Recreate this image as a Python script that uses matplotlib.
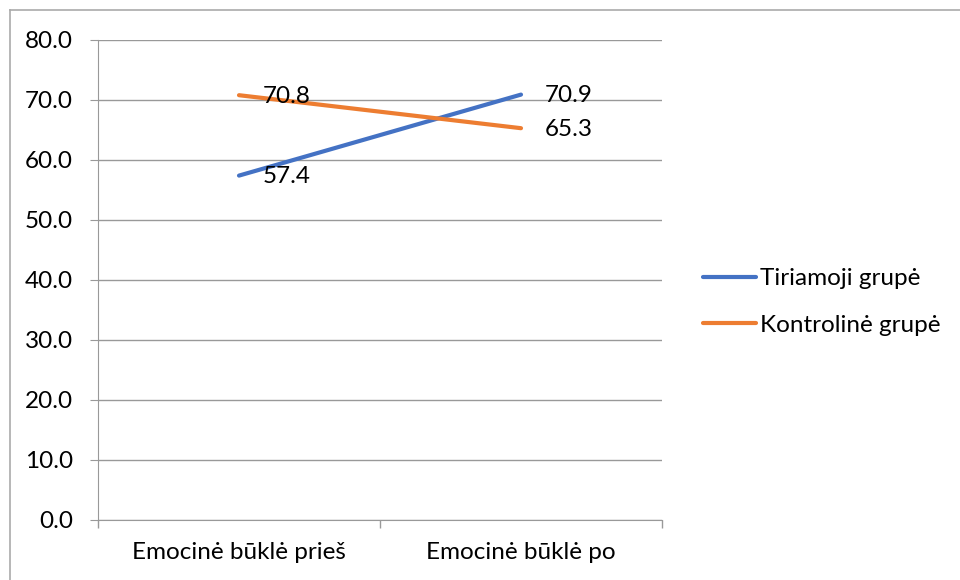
import matplotlib.pyplot as plt
import numpy as np

# data
categories = ["Emocinė būklė prieš", "Emocinė būklė po"]
tiriamoji = [57.4, 70.9]
kontroline = [70.8, 65.3]
series_names = ["Tiriamoji grupė", "Kontrolinė grupė"]

plt.rcParams['font.family'] = ['Lato', 'DejaVu Sans']
fs = 17.5

fig = plt.figure(figsize=(9.6, 5.8), dpi=100)
ax = fig.add_axes([98 / 960, 60 / 580, 564 / 960, 480 / 580])

x = np.arange(len(categories))
ax.plot(x, tiriamoji, color='#4472C4', lw=3, solid_capstyle='round', label=series_names[0])
ax.plot(x, kontroline, color='#ED7D31', lw=3, solid_capstyle='round', label=series_names[1])

for vals in (tiriamoji, kontroline):
    for xi, v in zip(x, vals):
        ax.annotate(f"{v:.1f}", (xi, v), xytext=(17, -1), textcoords='offset points',
                    ha='left', va='center', fontsize=fs, color='black')

ax.set_xlim(-0.5, 1.5)
ax.set_ylim(0, 80)
ax.set_yticks(np.arange(0, 81, 10))
ax.set_yticklabels([f"{t:.1f}" for t in np.arange(0, 81, 10)], fontsize=fs)
ax.set_xticks(x)
ax.set_xticklabels(categories, fontsize=fs)
ax.set_xticks([-0.5, 0.5, 1.5], minor=True)
ax.tick_params(axis='x', which='major', length=0, pad=16)
ax.tick_params(axis='x', which='minor', length=6, color='#999999', width=1)
ax.tick_params(axis='y', length=6, color='#999999', pad=12)

ax.grid(axis='y', color='#999999', lw=1)
ax.set_axisbelow(True)
for side in ('top', 'right'):
    ax.spines[side].set_visible(False)
for side in ('left', 'bottom'):
    ax.spines[side].set_color('#999999')

ax.legend(loc='center left', bbox_to_anchor=(681 / 960, 1 - 302 / 580), bbox_transform=fig.transFigure,
          frameon=False, fontsize=fs, handlelength=2.2, handletextpad=0.15, labelspacing=1.05)

# outer chart border (only top/left visible in original)
fig.add_artist(plt.Line2D([10 / 960, 10 / 960], [0, 1 - 10 / 580], color='#AAAAAA', lw=1.2,
                          transform=fig.transFigure))
fig.add_artist(plt.Line2D([10 / 960, 1], [1 - 10 / 580, 1 - 10 / 580], color='#AAAAAA', lw=1.2,
                          transform=fig.transFigure))

fig.savefig("out.png", dpi=100)
